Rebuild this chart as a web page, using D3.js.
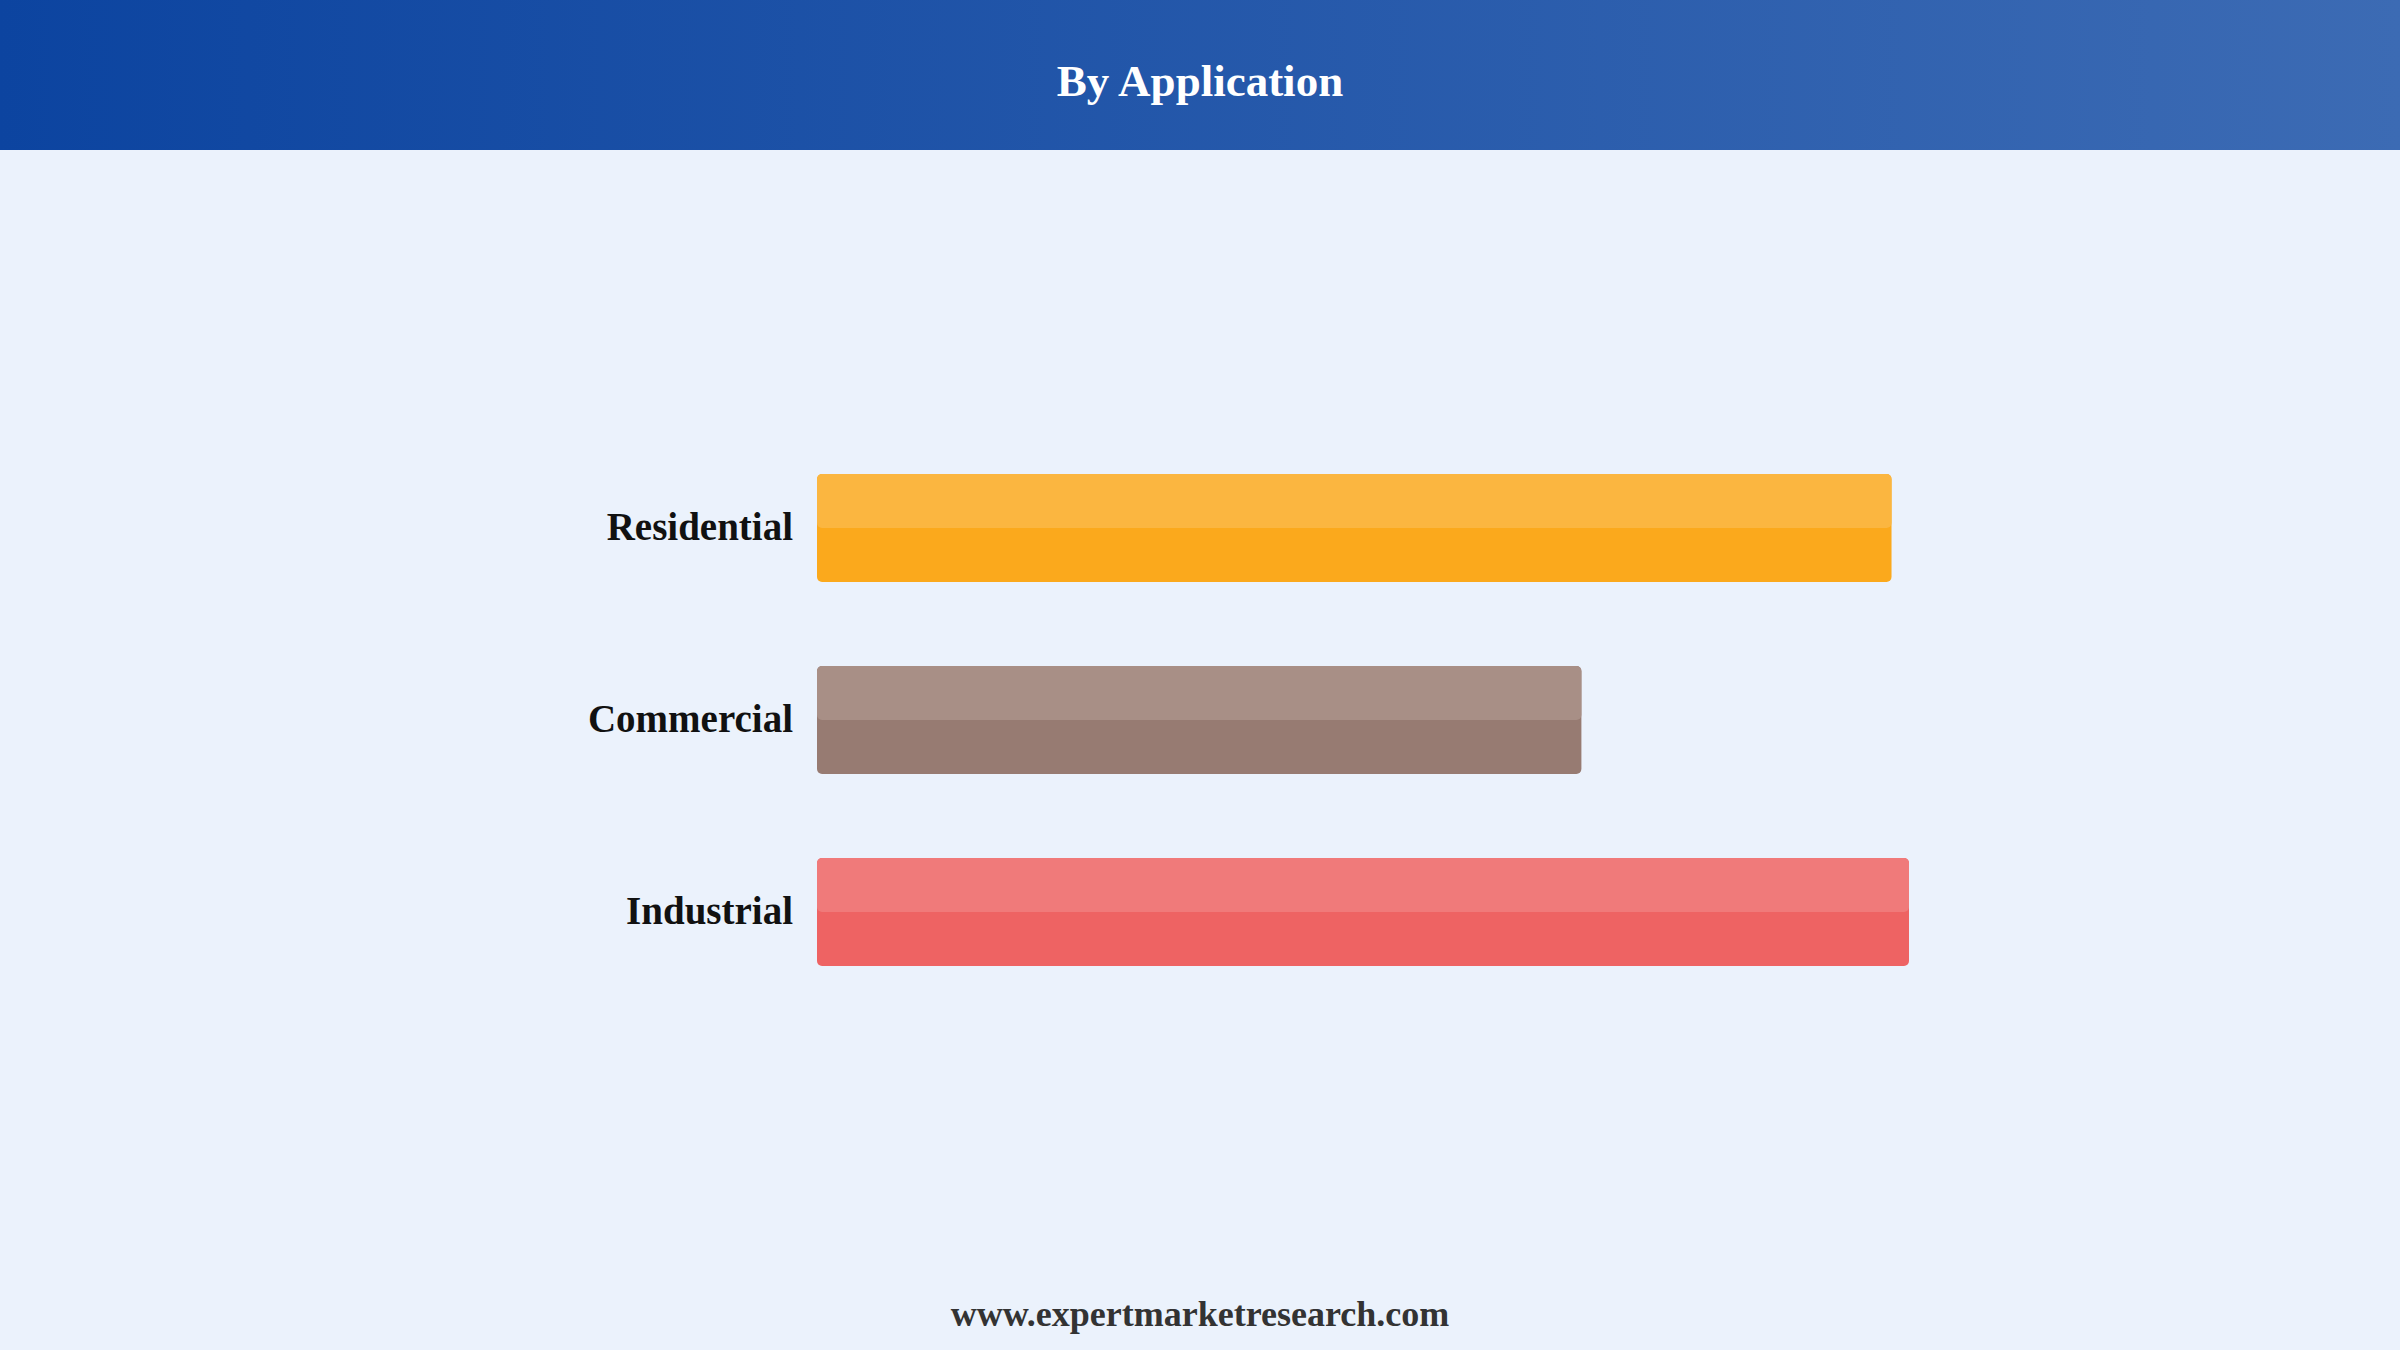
<!DOCTYPE html>
<html>
<head>
<meta charset="utf-8">
<script src="https://cdn.jsdelivr.net/npm/d3@7"></script>
<style>
  html, body { margin: 0; padding: 0; background: #ebf2fc; }
  svg { display: block; }
</style>
</head>
<body>
<div id="chart"></div>
<script>
const categories = ['Residential', 'Commercial', 'Industrial'];
const values = [49.2, 35.0, 50.0];
const topColors = ['#fbb640', '#a88f86', '#f07a7a'];
const baseColors = ['#fba91c', '#977b72', '#ee6363'];
const title = 'By Application';
const footer = 'www.expertmarketresearch.com';

const width = 2400;
const height = 1350;
const headerHeight = 150;
const serif = '"Liberation Serif", "Times New Roman", serif';

const svg = d3.select('#chart').append('svg')
  .attr('width', width)
  .attr('height', height);

// Header gradient
const defs = svg.append('defs');
const grad = defs.append('linearGradient')
  .attr('id', 'header-grad')
  .attr('x1', '0%').attr('x2', '100%')
  .attr('y1', '0%').attr('y2', '0%');
grad.append('stop').attr('offset', '0%').attr('stop-color', '#0c44a0');
grad.append('stop').attr('offset', '100%').attr('stop-color', '#3c6bb4');

svg.append('rect')
  .attr('width', width)
  .attr('height', height)
  .attr('fill', '#ebf2fc');

svg.append('rect')
  .attr('width', width)
  .attr('height', headerHeight)
  .attr('fill', 'url(#header-grad)');

svg.append('text')
  .attr('x', width / 2)
  .attr('y', 96)
  .attr('text-anchor', 'middle')
  .attr('font-family', serif)
  .attr('font-weight', 'bold')
  .attr('font-size', 45)
  .attr('fill', '#ffffff')
  .text(title);

// Scales
const xScale = d3.scaleLinear()
  .domain([0, 50])
  .range([817, 1909]);

const yScale = d3.scaleBand()
  .domain(categories)
  .range([432, 1008])
  .paddingInner(0.4375)
  .paddingOuter(0.21875);

const bars = svg.append('g')
  .selectAll('g')
  .data(categories)
  .enter()
  .append('g');

// full bar in base colour
bars.append('rect')
  .attr('x', xScale(0))
  .attr('y', d => yScale(d))
  .attr('width', (d, i) => xScale(values[i]) - xScale(0))
  .attr('height', yScale.bandwidth())
  .attr('rx', 5)
  .attr('fill', (d, i) => baseColors[i]);

// lighter upper half
bars.append('rect')
  .attr('x', xScale(0))
  .attr('y', d => yScale(d))
  .attr('width', (d, i) => xScale(values[i]) - xScale(0))
  .attr('height', yScale.bandwidth() / 2)
  .attr('rx', 5)
  .attr('fill', (d, i) => topColors[i]);

// Category labels
svg.append('g')
  .selectAll('text')
  .data(categories)
  .enter()
  .append('text')
  .attr('x', 793)
  .attr('y', d => yScale(d) + yScale.bandwidth() / 2)
  .attr('dy', '0.32em')
  .attr('text-anchor', 'end')
  .attr('font-family', serif)
  .attr('font-weight', 'bold')
  .attr('font-size', 39)
  .attr('fill', '#111111')
  .text(d => d);

svg.append('text')
  .attr('x', width / 2)
  .attr('y', 1326)
  .attr('text-anchor', 'middle')
  .attr('font-family', serif)
  .attr('font-weight', 'bold')
  .attr('font-size', 36)
  .attr('fill', '#333333')
  .text(footer);
</script>
</body>
</html>
